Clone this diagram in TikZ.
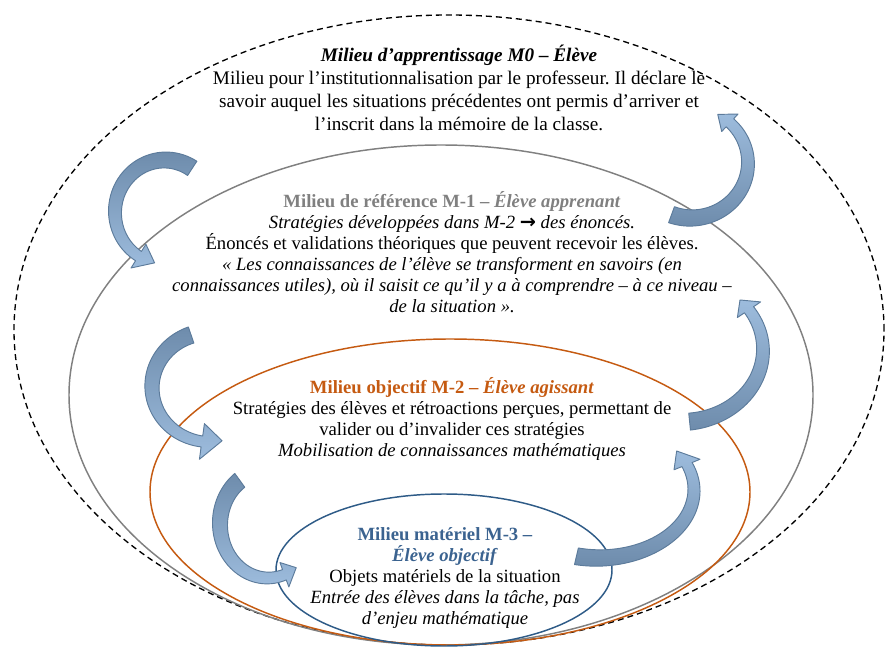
\documentclass[tikz,border=0pt]{standalone}
\usepackage{fontspec}
\setmainfont{Liberation Serif}
\newfontfamily\arrowfont{DejaVu Sans}
\frenchspacing
\definecolor{arrdark}{HTML}{6E8CAC}
\definecolor{arrlight}{HTML}{9DBCDD}
\definecolor{arrline}{HTML}{5C7B9B}
\definecolor{refgray}{HTML}{808080}
\definecolor{objorange}{HTML}{C55A11}
\definecolor{matblue}{HTML}{2E5B87}
\definecolor{mattext}{HTML}{3B6390}
\newcommand\wtail{8.5}
\newcommand\whead{5.5}
% [style] cx cy a b t1 t2 t3 hw
\newcommand\carrow[9][]{%
 \shadedraw[arrowbody,#1]
  plot[domain=0:1,samples=50] ({(#2)+((#4)+\wtail+(\whead-\wtail)*\x)*cos((#6)+((#7)-(#6))*\x)},{(#3)-((#5)+\wtail+(\whead-\wtail)*\x)*sin((#6)+((#7)-(#6))*\x)})
  -- ({(#2)+((#4)+(#9))*cos(#7)},{(#3)-((#5)+(#9))*sin(#7)})
  -- ({(#2)+(#4)*cos(#8)},{(#3)-(#5)*sin(#8)})
  -- ({(#2)+((#4)-(#9))*cos(#7)},{(#3)-((#5)-(#9))*sin(#7)})
  -- plot[domain=0:1,samples=50] ({(#2)+((#4)-\whead-(\wtail-\whead)*\x)*cos((#7)+((#6)-(#7))*\x)},{(#3)-((#5)-\whead-(\wtail-\whead)*\x)*sin((#7)+((#6)-(#7))*\x)})
  -- cycle;}
\begin{document}
\begin{tikzpicture}[x=0.75pt,y=-0.75pt,
  arrowbody/.style={draw=arrline,line width=0.7pt,line join=round},
  downarrow/.style={top color=arrdark,bottom color=arrlight},
  uparrow/.style={top color=arrlight,bottom color=arrdark},
  txt/.style={align=center,inner sep=0pt,font=\fontsize{14}{15.75}\selectfont},
  ring/.style={line width=1.1pt}]
\useasboundingbox (0,0) rectangle (885,648);
% milieux
\draw[line width=1pt,dash pattern=on 4.5pt off 3pt] (449,330) ellipse [x radius=326.25pt,y radius=236.25pt];
\draw[ring,refgray] (441,395) ellipse [x radius=279pt,y radius=187.5pt];
\draw[ring,objorange] (450,492) ellipse [x radius=225pt,y radius=114.75pt];
\draw[ring,matblue] (444,570) ellipse [x radius=126pt,y radius=57pt];
% arrows
\carrow[downarrow]{165}{212}{50}{52}{57}{238}{258}{14}
\carrow[downarrow]{210}{387}{58}{55}{109}{262}{282}{18}
\carrow[downarrow]{268}{524}{48}{54}{126}{290}{306}{13}
\carrow[uparrow]{691}{163}{57}{55}{-110}{47}{62}{12}
\carrow[uparrow]{681}{350}{82}{72}{-84}{34}{44}{14}
\carrow[uparrow]{598}{490}{96}{68}{-103}{22}{35}{14}
% texts
\node[txt,font=\fontsize{14.4}{17.25}\selectfont] (m0) at (459,88) {\textbf{\textit{Milieu d’apprentissage M0 – Élève}}\\
Milieu pour l’institutionnalisation par le professeur. Il déclare le\\
savoir auquel les situations précédentes ont permis d’arriver et\\
l’inscrit dans la mémoire de la classe.};
\node[txt] (m1) at (452,252) {{\color{refgray}\textbf{Milieu de référence M-1 – \textit{Élève apprenant}}}\\
\textit{Stratégies développées dans M-2 {\arrowfont\bfseries\fontsize{14.5}{14}\selectfont →} des énoncés.}\\
Énoncés et validations théoriques que peuvent recevoir les élèves.\\
\textit{« Les connaissances de l’élève se transforment en savoirs (en}\\
\textit{connaissances utiles), où il saisit ce qu’il y a à comprendre – à ce niveau –}\\
\textit{de la situation ».}};
\node[txt] (m2) at (452,419) {{\color{objorange}\textbf{Milieu objectif M-2 – \textit{Élève agissant}}}\\
Stratégies des élèves et rétroactions perçues, permettant de\\
valider ou d’invalider ces stratégies\\
\textit{Mobilisation de connaissances mathématiques}};
\node[txt] (m3) at (445,578) {{\color{mattext}\textbf{Milieu matériel M-3 –}}\\
{\color{mattext}\textbf{\textit{Élève objectif}}}\\
Objets matériels de la situation\\
\textit{Entrée des élèves dans la tâche, pas}\\
\textit{d’enjeu mathématique}};
\end{tikzpicture}
\end{document}
